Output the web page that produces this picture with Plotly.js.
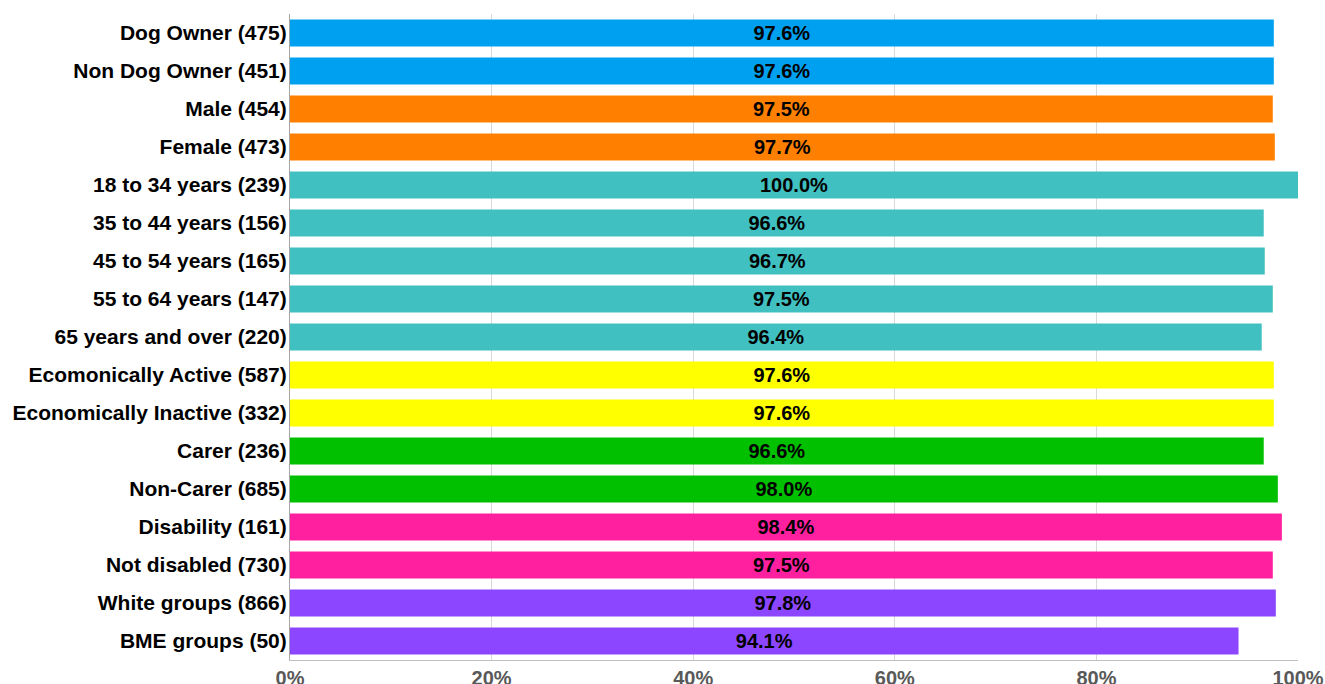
<!DOCTYPE html>
<html>
<head>
<meta charset="utf-8">
<script src="https://cdn.plot.ly/plotly-3.0.1.min.js"></script>
<style>html,body{margin:0;padding:0;background:#fff;}#chart{width:1325px;height:684px;}</style>
</head>
<body>
<div id="chart"></div>
<script>
const categories = [
  "Dog Owner (475)", "Non Dog Owner (451)", "Male (454)", "Female (473)",
  "18 to 34 years (239)", "35 to 44 years (156)", "45 to 54 years (165)",
  "55 to 64 years (147)", "65 years and over (220)", "Ecomonically Active (587)",
  "Economically Inactive (332)", "Carer (236)", "Non-Carer (685)",
  "Disability (161)", "Not disabled (730)", "White groups (866)", "BME groups (50)"
];
const values = [97.6, 97.6, 97.5, 97.7, 100.0, 96.6, 96.7, 97.5, 96.4, 97.6, 97.6, 96.6, 98.0, 98.4, 97.5, 97.8, 94.1];
const barColors = [
  "#00A0F0", "#00A0F0", "#FF8000", "#FF8000",
  "#40C0C0", "#40C0C0", "#40C0C0", "#40C0C0", "#40C0C0",
  "#FFFF00", "#FFFF00", "#00C000", "#00C000",
  "#FF20A0", "#FF20A0", "#8C46FF", "#8C46FF"
];
const tickVals = [0, 20, 40, 60, 80, 100];
const tickText = ["0%", "20%", "40%", "60%", "80%", "100%"];

const trace = {
  type: "bar",
  orientation: "h",
  y: categories,
  x: values,
  marker: {color: barColors},
  text: values.map(v => v.toFixed(1) + "%"),
  textposition: "inside",
  insidetextanchor: "middle",
  textangle: 0,
  constraintext: "none",
  textfont: {family: "Liberation Sans, Arial, sans-serif", size: 20, color: "#000000", weight: "bold"},
  hoverinfo: "none",
  cliponaxis: false
};

const layout = {
  width: 1325, height: 684,
  margin: {l: 290, r: 27, t: 14, b: 24, pad: 0},
  paper_bgcolor: "#ffffff",
  plot_bgcolor: "#ffffff",
  showlegend: false,
  bargap: 0.29,
  font: {family: "Liberation Sans, Arial, sans-serif"},
  xaxis: {
    range: [0, 100],
    tickvals: tickVals,
    ticktext: tickText,
    showgrid: true,
    gridcolor: "#d9d9d9",
    gridwidth: 1,
    zeroline: false,
    showline: true,
    linecolor: "#bfbfbf",
    linewidth: 1,
    ticks: "",
    tickfont: {family: "Liberation Sans, Arial, sans-serif", size: 20, color: "#595959", weight: "bold"},
    fixedrange: true
  },
  yaxis: {
    autorange: "reversed",
    type: "category",
    showgrid: false,
    zeroline: false,
    showline: true,
    linecolor: "#a6a6a6",
    linewidth: 1,
    ticks: "",
    ticklabelstandoff: -2,
    tickfont: {family: "Liberation Sans, Arial, sans-serif", size: 21, color: "#000000", weight: "bold"},
    fixedrange: true
  }
};

Plotly.newPlot("chart", [trace], layout, {displayModeBar: false, staticPlot: true});
</script>
</body>
</html>
